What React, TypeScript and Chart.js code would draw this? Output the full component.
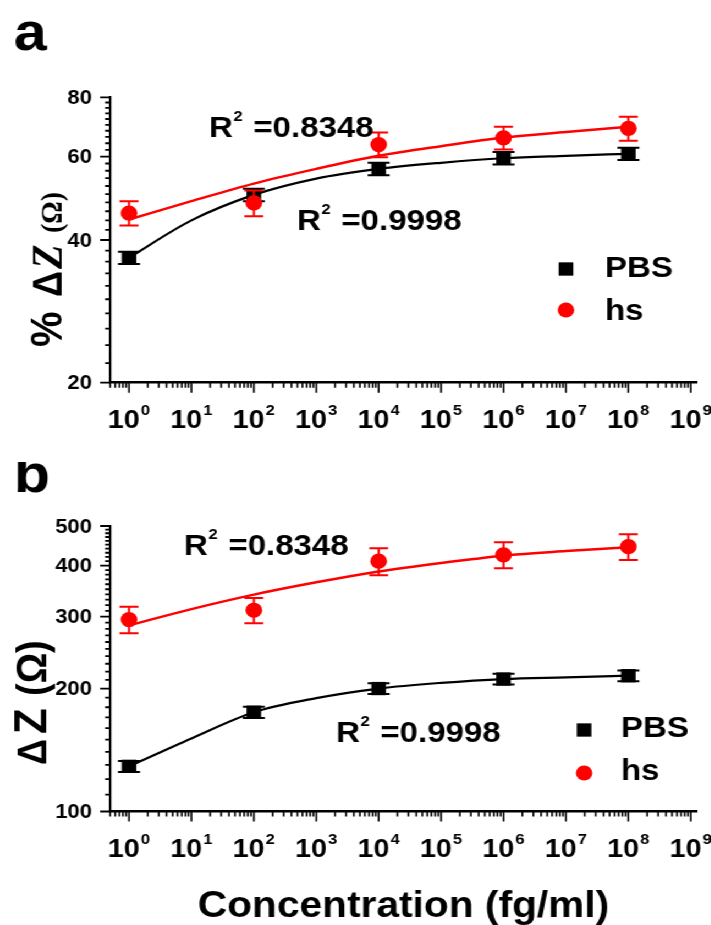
import React, { useEffect, useRef } from 'react';
import { Chart, registerables } from 'chart.js';

Chart.register(...registerables);

// ---------- data ----------
const concentrations = [1, 1e2, 1e4, 1e6, 1e8];
const fitConcentrations = [1, 1e1, 1e2, 1e3, 1e4, 1e5, 1e6, 1e7, 1e8];
const xTickExponents = [0, 1, 2, 3, 4, 5, 6, 7, 8, 9];

// panel a (% ΔZ)
const pbsA = [36.7, 49.8, 56.5, 59.5, 60.8];
const pbsAErr = [1.1, 1.5, 1.7, 1.8, 1.8];
const hsA = [45.6, 47.9, 63.6, 65.7, 68.8];
const hsAErr = [2.7, 3.0, 3.8, 3.6, 4.0];
const pbsAFit = [36.7, 44.0, 49.8, 53.9, 56.5, 58.2, 59.5, 60.2, 60.8];
const hsAFit = [44.2, 48.3, 52.6, 56.5, 60.2, 63.1, 65.8, 67.6, 69.3];
const yTicksA = [20, 40, 60, 80];
const r2LabelsA = ['0.8348', '0.9998'];

// panel b (ΔZ)
const pbsB = [129, 175, 200, 211, 215];
const pbsBErr = [4, 5.5, 6, 6.5, 6.5];
const hsB = [295, 311, 410, 425, 445];
const hsBErr = [22, 22, 31, 31, 32];
const pbsBFit = [129, 151, 175, 189.5, 200, 206.5, 211, 213, 215];
const hsBFit = [285.5, 313, 339.6, 364, 387, 406, 423, 434, 443.5];
const yTicksB = [100, 200, 300, 400, 500];
const r2LabelsB = ['0.8348', '0.9998'];

const seriesNames = ['PBS', 'hs'];

// ---------- style ----------
const STRETCH = 1.1;
const LW = 646; // logical width (stretched horizontally by STRETCH)
const SANS = '"Liberation Sans", Arial, Helvetica, sans-serif';
const SERIF = '"Liberation Serif", "Times New Roman", serif';
const RED = '#ff0000';
const BLACK = '#000000';
const X_MIN = 0.4966;
const X_MAX = 1.247e9;

interface Seg { text: string; font: string; offset: number }
interface PanelSpec {
  id: string;
  letter: string;
  letterY: number;
  area: { left: number; right: number; top: number; bottom: number };
  yMin: number;
  yMax: number;
  yMajor: number[];
  yMinorStep: number;
  pbs: number[]; pbsErr: number[]; hs: number[]; hsErr: number[];
  pbsFit: number[]; hsFit: number[];
  r2: { value: string; x: number; y: number }[];
  legend: { markerX: number; textX: number; pbsY: number; hsY: number; pbsBase: number; hsBase: number };
  yTitle: { baseX: number; startY: number; segs: Seg[] };
  xLabelBase: number;
  xTitle?: { text: string; x: number; y: number };
}

function drawR2(ctx: CanvasRenderingContext2D, x: number, y: number, value: string) {
  ctx.textAlign = 'left';
  ctx.textBaseline = 'alphabetic';
  ctx.font = `bold 30px ${SANS}`;
  ctx.fillText('R', x, y);
  const wR = ctx.measureText('R').width;
  ctx.font = `bold 15px ${SANS}`;
  ctx.fillText('2', x + wR + 0.5, y - 16);
  const w2 = ctx.measureText('2').width;
  ctx.font = `bold 30px ${SANS}`;
  ctx.fillText(' =' + value, x + wR + w2 + 2, y);
}

function makeChart(canvas: HTMLCanvasElement, p: PanelSpec): Chart {
  const H = canvas.height;

  const errPlugin = {
    id: 'errbars' + p.id,
    beforeDatasetDraw(chart: any, args: any) {
      let set: any = null;
      if (args.index === 0) set = { vals: p.hs, errs: p.hsErr, color: RED, half: 8.6 };
      if (args.index === 1) set = { vals: p.pbs, errs: p.pbsErr, color: BLACK, half: 10 };
      if (!set) return;
      const { ctx } = chart;
      const x = chart.scales.x;
      const y = chart.scales.y;
      ctx.save();
      ctx.strokeStyle = set.color;
      ctx.lineWidth = 2;
      concentrations.forEach((c, i) => {
        const px = x.getPixelForValue(c);
        const top = y.getPixelForValue(set.vals[i] + set.errs[i]);
        const bot = y.getPixelForValue(set.vals[i] - set.errs[i]);
        ctx.beginPath();
        ctx.moveTo(px, top); ctx.lineTo(px, bot);
        ctx.moveTo(px - set.half, top); ctx.lineTo(px + set.half, top);
        ctx.moveTo(px - set.half, bot); ctx.lineTo(px + set.half, bot);
        ctx.stroke();
      });
      ctx.restore();
    },
  };

  const decorPlugin = {
    id: 'decor' + p.id,
    afterDraw(chart: any) {
      const { ctx } = chart;
      const x = chart.scales.x;
      const y = chart.scales.y;
      const ca = chart.chartArea;
      ctx.save();
      ctx.fillStyle = BLACK;
      ctx.strokeStyle = BLACK;

      // x ticks
      ctx.lineWidth = 1.6;
      ctx.beginPath();
      for (let k = -1; k <= 9; k++) {
        for (let m = 1; m <= 9; m++) {
          const v = m * Math.pow(10, k);
          if (v < X_MIN || v > X_MAX) continue;
          const px = x.getPixelForValue(v);
          const len = m === 1 ? 10 : 5;
          ctx.moveTo(px, ca.bottom);
          ctx.lineTo(px, ca.bottom + len);
        }
      }
      ctx.stroke();

      // y ticks
      ctx.lineWidth = 1.8;
      ctx.beginPath();
      for (let v = p.yMin; v <= p.yMax + 1e-9; v += p.yMinorStep) {
        const isMajor = p.yMajor.some((t) => Math.abs(t - v) < 1e-6);
        const py = y.getPixelForValue(v);
        const len = isMajor ? 9 : 4.5;
        ctx.moveTo(ca.left - len, py);
        ctx.lineTo(ca.left, py);
      }
      ctx.stroke();

      // y tick labels
      ctx.font = `bold 20px ${SANS}`;
      ctx.textAlign = 'right';
      ctx.textBaseline = 'middle';
      p.yMajor.forEach((t) => {
        ctx.fillText(String(t), 83.6, y.getPixelForValue(t) + 1);
      });

      // x tick labels with superscripts
      ctx.textBaseline = 'alphabetic';
      ctx.textAlign = 'left';
      xTickExponents.forEach((e) => {
        const px = x.getPixelForValue(Math.pow(10, e));
        ctx.font = `bold 26px ${SANS}`;
        const wMain = ctx.measureText('10').width;
        ctx.font = `bold 15px ${SANS}`;
        const wSup = ctx.measureText(String(e)).width;
        const total = wMain + 1 + wSup;
        const sx = px - total / 2;
        ctx.font = `bold 26px ${SANS}`;
        ctx.fillText('10', sx, p.xLabelBase);
        ctx.font = `bold 15px ${SANS}`;
        ctx.fillText(String(e), sx + wMain + 1, p.xLabelBase - 13);
      });

      // panel letter
      ctx.font = `bold 54px ${SANS}`;
      ctx.fillText(p.letter, 12.5, p.letterY);

      // R² annotations
      p.r2.forEach((r) => drawR2(ctx, r.x, r.y, r.value));

      // legend
      const L = p.legend;
      ctx.fillStyle = BLACK;
      ctx.fillRect(L.markerX - 6.65, L.pbsY - 6.65, 13.3, 13.3);
      ctx.fillStyle = RED;
      ctx.beginPath();
      ctx.arc(L.markerX, L.hsY, 7.5, 0, Math.PI * 2);
      ctx.fill();
      ctx.fillStyle = BLACK;
      ctx.font = `bold 30px ${SANS}`;
      ctx.textAlign = 'left';
      ctx.fillText(seriesNames[0], L.textX, L.pbsBase);
      ctx.fillText(seriesNames[1], L.textX, L.hsBase);

      // y title (rotated)
      ctx.save();
      ctx.translate(p.yTitle.baseX, p.yTitle.startY);
      ctx.rotate(-Math.PI / 2);
      ctx.textAlign = 'left';
      ctx.textBaseline = 'alphabetic';
      p.yTitle.segs.forEach((s) => {
        ctx.font = s.font;
        ctx.fillText(s.text, s.offset, 0);
      });
      ctx.restore();

      // x title
      if (p.xTitle) {
        ctx.font = `bold 37px ${SANS}`;
        ctx.textAlign = 'center';
        ctx.textBaseline = 'alphabetic';
        ctx.fillText(p.xTitle.text, p.xTitle.x, p.xTitle.y);
      }
      ctx.restore();
    },
  };

  const pts = (vals: number[], xs: number[]) => xs.map((c, i) => ({ x: c, y: vals[i] }));

  return new Chart(canvas, {
    type: 'scatter',
    data: {
      datasets: [
        {
          label: 'hs',
          data: pts(p.hs, concentrations),
          showLine: false,
          pointStyle: 'circle',
          pointRadius: 7.6,
          pointBackgroundColor: RED,
          pointBorderWidth: 0,
          borderColor: RED,
          backgroundColor: RED,
          clip: false,
        } as any,
        {
          label: 'PBS',
          data: pts(p.pbs, concentrations),
          showLine: false,
          pointStyle: 'rect',
          pointRadius: 9.4,
          pointBackgroundColor: BLACK,
          pointBorderWidth: 0,
          borderColor: BLACK,
          backgroundColor: BLACK,
          clip: false,
        } as any,
        {
          label: 'hs fit',
          data: pts(p.hsFit, fitConcentrations),
          showLine: true,
          borderColor: RED,
          borderWidth: 2.5,
          pointRadius: 0,
          cubicInterpolationMode: 'monotone',
          fill: false,
        } as any,
        {
          label: 'PBS fit',
          data: pts(p.pbsFit, fitConcentrations),
          showLine: true,
          borderColor: BLACK,
          borderWidth: 2.2,
          pointRadius: 0,
          cubicInterpolationMode: 'monotone',
          fill: false,
        } as any,
      ],
    },
    options: {
      responsive: false,
      animation: false,
      devicePixelRatio: 1,
      events: [],
      layout: { padding: { left: 0, top: p.area.top, right: LW - p.area.right, bottom: 0 } },
      plugins: { legend: { display: false }, tooltip: { enabled: false } },
      scales: {
        x: {
          type: 'logarithmic',
          min: X_MIN,
          max: X_MAX,
          grid: { display: false },
          ticks: { display: false },
          border: { display: true, color: BLACK, width: 2.5 },
          afterFit: (s: any) => { s.height = H - p.area.bottom; },
        },
        y: {
          type: 'logarithmic',
          min: p.yMin,
          max: p.yMax,
          grid: { display: false },
          ticks: { display: false },
          border: { display: true, color: BLACK, width: 2.2 },
          afterFit: (s: any) => { s.width = p.area.left; },
        },
      },
    } as any,
    plugins: [errPlugin, decorPlugin],
  });
}

const specA: PanelSpec = {
  id: 'a',
  letter: 'a',
  letterY: 50,
  area: { left: 100, right: 633.4, top: 97.3, bottom: 382.7 },
  yMin: 20,
  yMax: 80,
  yMajor: yTicksA,
  yMinorStep: 2,
  pbs: pbsA, pbsErr: pbsAErr, hs: hsA, hsErr: hsAErr, pbsFit: pbsAFit, hsFit: hsAFit,
  r2: [
    { value: r2LabelsA[0], x: 190, y: 137 },
    { value: r2LabelsA[1], x: 270, y: 230 },
  ],
  legend: { markerX: 514.5, textX: 550, pbsY: 269, hsY: 310, pbsBase: 277, hsBase: 320 },
  yTitle: {
    baseX: 56,
    startY: 347,
    segs: [
      { text: '%', font: `bold 40px ${SANS}`, offset: 0 },
      { text: 'Δ', font: `bold 36px ${SANS}`, offset: 50 },
      { text: 'Z', font: `italic bold 40px ${SERIF}`, offset: 78 },
      { text: '(Ω)', font: `bold 28px ${SERIF}`, offset: 114 },
    ],
  },
  xLabelBase: 428,
};

const specB: PanelSpec = {
  id: 'b',
  letter: 'b',
  letterY: 30,
  area: { left: 100, right: 633.4, top: 64, bottom: 349.5 },
  yMin: 100,
  yMax: 500,
  yMajor: yTicksB,
  yMinorStep: 10,
  pbs: pbsB, pbsErr: pbsBErr, hs: hsB, hsErr: hsBErr, pbsFit: pbsBFit, hsFit: hsBFit,
  r2: [
    { value: r2LabelsB[0], x: 167.3, y: 93 },
    { value: r2LabelsB[1], x: 305.5, y: 280 },
  ],
  legend: { markerX: 531, textX: 564.5, pbsY: 268, hsY: 311, pbsBase: 275, hsBase: 318 },
  yTitle: {
    baseX: 42,
    startY: 303,
    segs: [
      { text: 'Δ', font: `bold 36px ${SANS}`, offset: 0 },
      { text: 'Z', font: `bold 42px ${SANS}`, offset: 31 },
      { text: '(Ω)', font: `bold 38px ${SANS}`, offset: 69 },
    ],
  },
  xLabelBase: 395,
  xTitle: { text: 'Concentration (fg/ml)', x: 366.8, y: 455 },
};

export default function App() {
  const refA = useRef<HTMLCanvasElement>(null);
  const refB = useRef<HTMLCanvasElement>(null);

  useEffect(() => {
    const a = makeChart(refA.current!, specA);
    const b = makeChart(refB.current!, specB);
    return () => {
      a.destroy();
      b.destroy();
    };
  }, []);

  return (
    <div
      style={{
        position: 'absolute',
        left: 0,
        top: 0,
        width: `${LW}px`,
        height: '925px',
        transform: `scaleX(${STRETCH})`,
        transformOrigin: '0 0',
        background: '#fff',
      }}
    >
      <canvas
        ref={refA}
        width={LW}
        height={462}
        style={{ position: 'absolute', left: 0, top: 0, width: `${LW}px`, height: '462px' }}
      />
      <canvas
        ref={refB}
        width={LW}
        height={463}
        style={{ position: 'absolute', left: 0, top: '462px', width: `${LW}px`, height: '463px' }}
      />
    </div>
  );
}
